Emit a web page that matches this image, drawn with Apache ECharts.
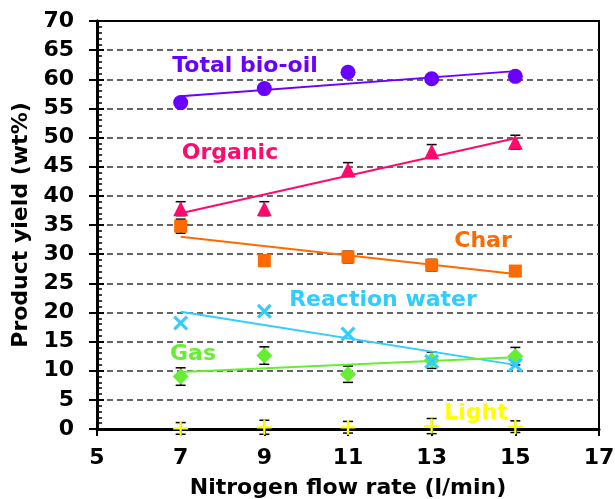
<!DOCTYPE html>
<html><head><meta charset="utf-8">
<script src="https://cdn.jsdelivr.net/npm/echarts@6/dist/echarts.min.js"></script>
<style>html,body{margin:0;padding:0;background:#fff}#c{width:615px;height:499px}</style>
</head><body><div id="c"></div>
<script>
const xs = [7, 9, 11, 13, 15];
const bioOil = [56.0, 58.4, 61.2, 60.1, 60.5];
const organic = [37.8, 37.8, 44.5, 47.6, 49.2];
const charY = [34.8, 28.9, 29.5, 28.1, 27.1];
const water = [18.2, 20.2, 16.3, 11.6, 11.0];
const gas = [9.0, 12.6, 9.4, 11.8, 12.5];
const light = [0.1, 0.3, 0.3, 0.5, 0.4];
const organicErr = [1.2, 1.2, 1.2, 1.2, 1.2];
const charErr = [1.2, 1.0, 1.0, 1.0, 0.9];
const gasErr = [1.5, 1.5, 1.4, 1.4, 1.5];
const lightErr = [1.0, 1.2, 1.0, 1.3, 1.0];
const trendX = [7, 15];
const bioOilTrend = [57.1, 61.4];
const organicTrend = [37.0, 49.9];
const charTrend = [33.0, 26.6];
const waterTrend = [20.1, 11.0];
const gasTrend = [9.8, 12.3];
const xTicks = [5, 7, 9, 11, 13, 15, 17];
const yTicks = [0, 5, 10, 15, 20, 25, 30, 35, 40, 45, 50, 55, 60, 65, 70];

const C = {bio:'#6a00ff', org:'#ff0a6c', char:'#ff6a00', water:'#33ccff', gas:'#66ee33', light:'#ffff00'};
const FONT = 'DejaVu Sans';
const pts = (ys) => xs.map((x, i) => [x, ys[i]]);
const trend = (ys) => trendX.map((x, i) => [x, ys[i]]);
const errData = (ys, es) => xs.map((x, i) => [x, ys[i], es[i]]);

function errSeries(ys, es) {
  return {
    type: 'custom', z: 3, data: errData(ys, es), silent: true,
    renderItem: function (params, api) {
      const x = api.value(0), y = api.value(1), e = api.value(2);
      const top = api.coord([x, y + e]), bot = api.coord([x, y - e]);
      const hw = 5;
      const st = {stroke: '#000', lineWidth: 1.5};
      return {type: 'group', children: [
        {type: 'line', shape: {x1: top[0], y1: top[1], x2: bot[0], y2: bot[1]}, style: st},
        {type: 'line', shape: {x1: top[0]-hw, y1: top[1], x2: top[0]+hw, y2: top[1]}, style: st},
        {type: 'line', shape: {x1: bot[0]-hw, y1: bot[1], x2: bot[0]+hw, y2: bot[1]}, style: st}
      ]};
    }
  };
}
function lineSeries(ys, color) {
  return {type: 'line', data: trend(ys), symbol: 'none', z: 4, silent: true,
    lineStyle: {color: color, width: 2}};
}
function scat(ys, color, symbol, size) {
  return {type: 'scatter', data: pts(ys), symbol: symbol, symbolSize: size, z: 5,
    itemStyle: {color: color, opacity: 1}};
}
const XPATH = 'path://M0,3 L3,0 L10,7 L17,0 L20,3 L13,10 L20,17 L17,20 L10,13 L3,20 L0,17 L7,10 Z';
const PLUS = 'path://M8.5,0 H11.5 V8.5 H20 V11.5 H11.5 V20 H8.5 V11.5 H0 V8.5 H8.5 Z';

const labels = [
  ['Total bio-oil', 245, 66, C.bio],
  ['Organic', 230, 153, C.org],
  ['Char', 483, 241, C.char],
  ['Reaction water', 383, 300, C.water],
  ['Gas', 193, 354, C.gas],
  ['Light', 476, 413, C.light]
];

const chart = echarts.init(document.getElementById('c'));
chart.setOption({
  animation: false,
  grid: {left: 97, right: 16, top: 21, bottom: 70, show: true, borderColor: '#000', borderWidth: 2,
    outerBoundsMode: 'none', containLabel: false},
  xAxis: {
    type: 'value', min: 5, max: 17, interval: 2,
    name: 'Nitrogen flow rate (l/min)', nameLocation: 'middle', nameGap: 48,
    nameTextStyle: {fontFamily: FONT, fontWeight: 'bold', fontSize: 22, color: '#000'},
    axisLine: {lineStyle: {color: '#000', width: 3}},
    axisTick: {inside: false, length: 7, lineStyle: {color: '#000', width: 2}},
    axisLabel: {fontFamily: FONT, fontWeight: 'bold', fontSize: 22, color: '#000', margin: 18,
      formatter: v => xTicks.includes(v) ? String(v) : ''},
    splitLine: {show: false}
  },
  yAxis: [{
    type: 'value', min: 0, max: 70, interval: 5,
    name: 'Product yield (wt%)', nameLocation: 'middle', nameGap: 64,
    nameTextStyle: {fontFamily: FONT, fontWeight: 'bold', fontSize: 22, color: '#000'},
    axisLine: {lineStyle: {color: '#000', width: 3}},
    axisTick: {inside: false, length: 8, lineStyle: {color: '#000', width: 2}},
    axisLabel: {fontFamily: FONT, fontWeight: 'bold', fontSize: 22, color: '#000', margin: 23,
      formatter: v => yTicks.includes(v) ? String(v) : ''},
    splitLine: {show: true, showMinLine: false, showMaxLine: false,
      lineStyle: {color: '#333', width: 1.5, type: [6, 4]}}
  }, {
    type: 'value', min: 0, max: 70, interval: 5, position: 'left',
    axisLine: {show: true, lineStyle: {color: '#000', width: 3}},
    axisTick: {show: true, inside: true, length: 7, lineStyle: {color: '#000', width: 2}},
    minorTick: {show: true, splitNumber: 5, length: 5, lineStyle: {color: '#000', width: 1.5}},
    axisLabel: {show: false}, splitLine: {show: false}
  }],
  graphic: labels.map(l => ({
    type: 'text', x: l[1], y: l[2], z: 100,
    style: {text: l[0], fill: l[3], font: 'bold 22px "DejaVu Sans"', align: 'center', verticalAlign: 'middle'}
  })),
  series: [
    lineSeries(bioOilTrend, C.bio),
    lineSeries(organicTrend, C.org),
    lineSeries(charTrend, C.char),
    lineSeries(waterTrend, C.water),
    lineSeries(gasTrend, C.gas),
    errSeries(organic, organicErr),
    errSeries(charY, charErr),
    errSeries(gas, gasErr),
    errSeries(light, lightErr),
    scat(bioOil, C.bio, 'circle', 15),
    scat(organic, C.org, 'triangle', 15),
    scat(charY, C.char, 'rect', 13),
    scat(gas, C.gas, 'diamond', 16),
    scat(water, C.water, XPATH, 15),
    scat(light, C.light, PLUS, 15)
  ]
});
</script></body></html>
